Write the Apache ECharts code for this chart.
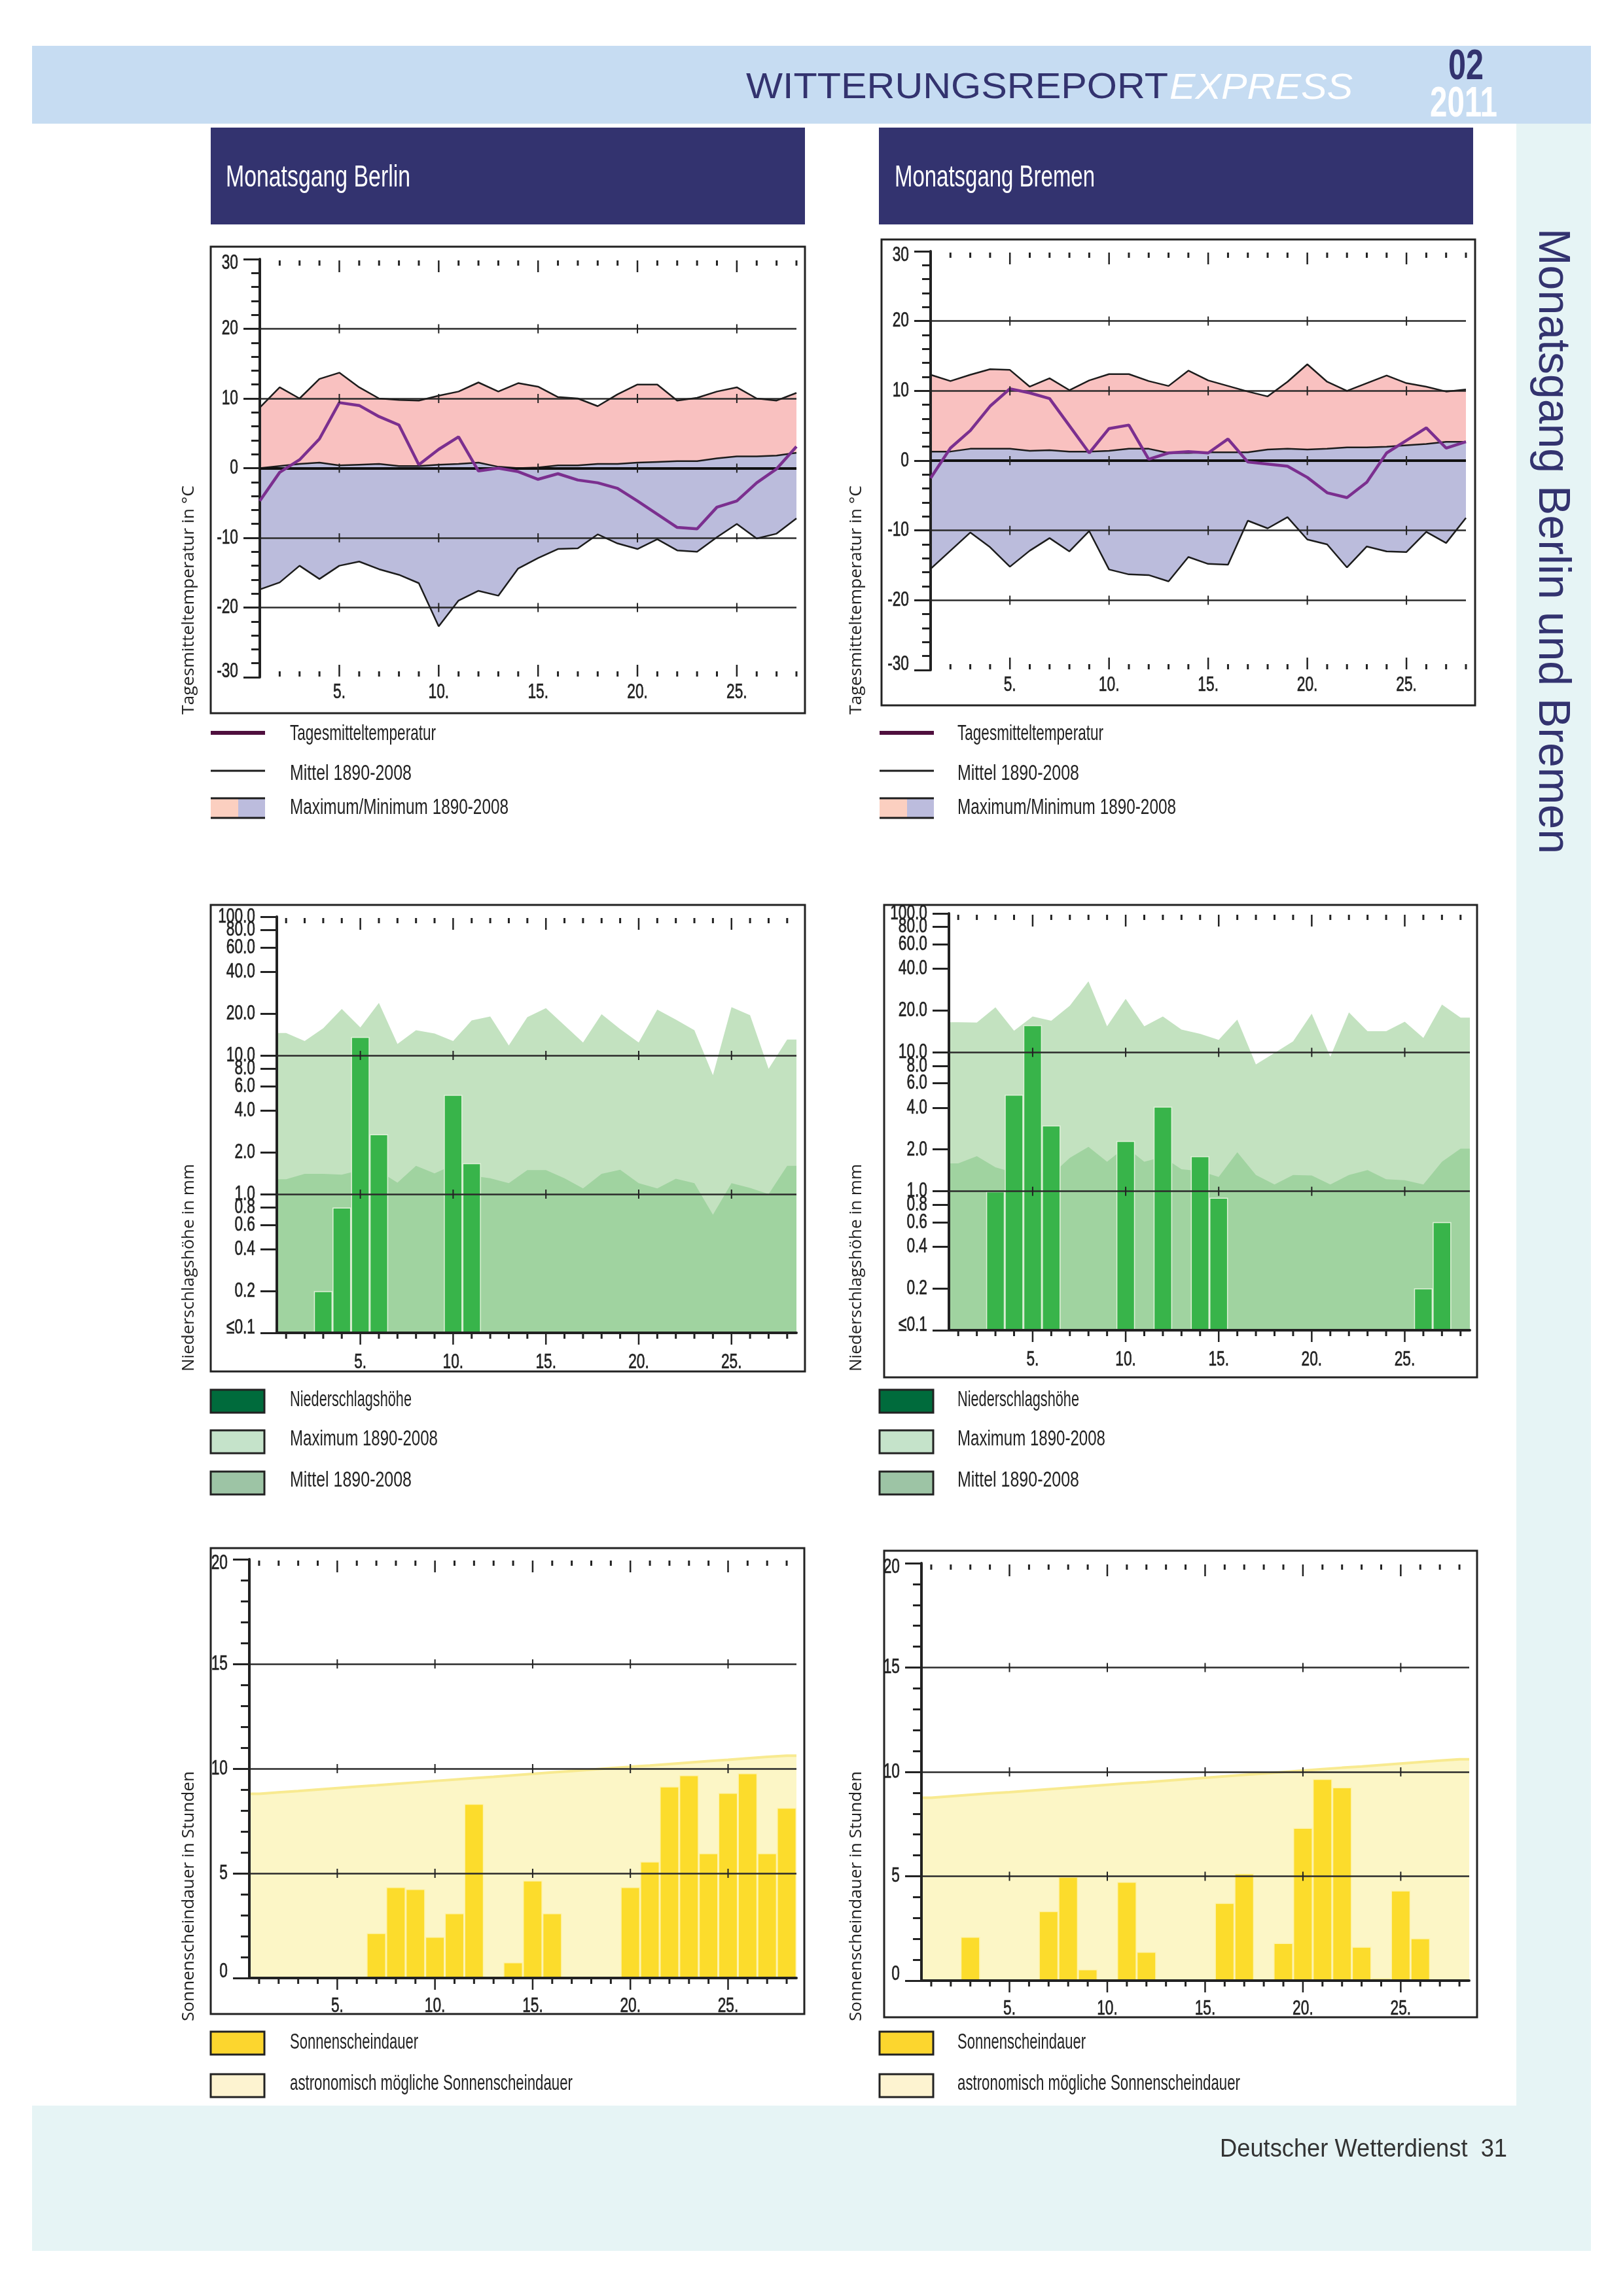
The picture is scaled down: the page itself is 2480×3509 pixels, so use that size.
<!DOCTYPE html>
<html>
<head>
<meta charset="utf-8">
<title>Monatsgang Berlin und Bremen</title>
<script src="https://cdn.jsdelivr.net/npm/echarts@6/dist/echarts.min.js"></script>
<style>
html, body { margin: 0; padding: 0; background: #fff; }
#page { width: 2480px; height: 3509px; }
</style>
</head>
<body>
<div id="page"></div>
<script>
var days = [1,2,3,4,5,6,7,8,9,10,11,12,13,14,15,16,17,18,19,20,21,22,23,24,25,26,27,28];

// Tagesmitteltemperatur
var berlinTemp = [-4.7,-0.6,1.2,4.2,9.4,9.0,7.4,6.2,0.5,2.7,4.5,-0.4,0,-0.5,-1.6,-0.8,-1.7,-2.1,-2.9,-4.7,-6.6,-8.5,-8.7,-5.6,-4.7,-2.1,-0.1,3.1];
var berlinTempMax = [8.7,11.6,10.0,12.8,13.7,11.6,10.0,9.8,9.7,10.4,11.0,12.3,11.0,12.2,11.7,10.2,10.0,8.9,10.6,12.0,12.0,9.7,10.1,11.0,11.6,10.0,9.7,10.8];
var berlinTempMean = [0,0.3,0.6,0.8,0.4,0.5,0.6,0.3,0.3,0.5,0.6,0.8,0.2,0,0.1,0.4,0.4,0.6,0.6,0.8,0.9,1.0,1.0,1.4,1.7,1.7,1.8,2.2];
var berlinTempMin = [-17.4,-16.4,-14.0,-15.9,-14.0,-13.4,-14.5,-15.3,-16.5,-22.7,-19.0,-17.6,-18.3,-14.4,-12.9,-11.6,-11.5,-9.5,-10.8,-11.6,-10.2,-11.8,-12.0,-9.9,-8.0,-10.1,-9.4,-7.2];

var bremenTemp = [-2.5,1.8,4.3,7.8,10.3,9.7,8.9,5.0,1.1,4.6,5.1,0.2,1.1,1.3,1.1,3.1,-0.2,-0.5,-0.8,-2.4,-4.6,-5.3,-3.1,1.1,2.9,4.7,1.8,2.7];
var bremenTempMax = [12.3,11.4,12.3,13.1,13.0,10.6,11.8,10.1,11.5,12.4,12.4,11.4,10.7,12.9,11.5,10.7,9.9,9.2,11.3,13.8,11.3,10.0,11.1,12.2,11.1,10.6,9.9,10.2];
var bremenTempMean = [1.3,1.3,1.7,1.7,1.7,1.4,1.5,1.3,1.3,1.4,1.7,1.7,1.1,1.1,1.2,1.2,1.2,1.6,1.7,1.6,1.7,1.9,1.9,2.0,2.2,2.4,2.7,2.7];
var bremenTempMin = [-15.5,-12.9,-10.3,-12.4,-15.2,-12.9,-11.1,-13.0,-10.1,-15.6,-16.3,-16.4,-17.3,-13.8,-14.8,-14.9,-8.6,-9.7,-8.1,-11.3,-12.0,-15.3,-12.3,-13.0,-13.1,-10.2,-11.8,-8.2];

// Niederschlagshoehe
var berlinRain = [null,null,0.2,0.8,13.6,2.7,null,null,null,5.2,1.67,null,null,null,null,null,null,null,null,null,null,null,null,null,null,null,null,null];
var berlinRainMax = [14.5,12.7,15.7,21.6,15.9,23.9,12.1,15.2,14.4,12.7,17.9,19.1,11.8,18.9,21.9,16.5,12.4,19.8,15.5,12.4,21.4,18.1,15.2,7.2,22.3,19.5,8.0,13.0];
var berlinRainMean = [1.28,1.40,1.40,1.38,1.49,1.47,1.21,1.60,1.41,1.62,1.36,1.30,1.20,1.49,1.49,1.30,1.10,1.40,1.50,1.20,1.10,1.29,1.20,0.71,1.20,1.11,1.0,1.60];

var bremenRain = [null,null,1.0,4.96,15.7,2.98,null,null,null,2.3,null,4.07,null,1.79,0.9,null,null,null,null,null,null,null,null,null,null,0.2,0.6,null];
var bremenRainMax = [16.5,16.4,21.1,14.3,18.1,16.9,21.7,32.5,15.4,24.3,15.4,18.1,14.6,13.6,12.3,17.2,8.2,9.9,12.0,19.0,9.3,19.4,14.2,14.2,16.6,12.7,22.1,17.8];
var bremenRainMean = [1.59,1.79,1.49,1.36,1.44,1.31,1.74,2.09,1.63,2.09,1.63,1.77,1.44,1.40,1.27,1.91,1.31,1.12,1.31,1.30,1.12,1.31,1.42,1.22,1.20,1.12,1.63,2.03];

// Sonnenscheindauer
var berlinSun = [null,null,null,null,null,null,2.15,4.34,4.25,1.97,3.09,8.32,null,0.75,4.66,3.09,null,null,null,4.34,5.56,9.15,9.69,5.96,8.84,9.78,5.96,8.13];
var berlinSunAstro = [8.80,8.87,8.93,9.00,9.07,9.14,9.20,9.27,9.34,9.41,9.48,9.55,9.61,9.68,9.75,9.82,9.88,9.95,10.02,10.09,10.15,10.22,10.29,10.36,10.42,10.49,10.56,10.62];

var bremenSun = [null,null,2.1,null,null,null,3.33,4.98,0.54,null,4.73,1.38,null,null,null,3.72,5.13,null,1.8,7.32,9.66,9.26,1.62,0.12,4.32,2.03,null,null];
var bremenSunAstro = [8.76,8.83,8.90,8.97,9.03,9.10,9.17,9.24,9.31,9.38,9.45,9.51,9.58,9.65,9.72,9.79,9.86,9.92,9.99,10.06,10.13,10.20,10.26,10.33,10.40,10.47,10.54,10.60];

// tick labels
var tempTicks = [-30,-20,-10,0,10,20,30];
var tempTickLabels = ['-30','-20','-10','0','10','20','30'];
var sunTicks = [0,5,10,15,20];
var sunTickLabels = ['0','5','10','15','20'];
var rainTicks = [0.1,0.2,0.4,0.6,0.8,1,2,4,6,8,10,20,40,60,80,99.99];
var rainTickLabels = ['≤0.1','0.2','0.4','0.6','0.8','1.0','2.0','4.0','6.0','8.0','10.0','20.0','40.0','60.0','80.0','100.0'];
var dayTicks = [5,10,15,20,25];
var dayTickLabels = ['5.','10.','15.','20.','25.'];

var SANS = '"Liberation Sans", sans-serif';
var INK = '#222';

var chart = echarts.init(document.getElementById('page'), null, { renderer: 'canvas', width: 2480, height: 3509 });

var grids = [], xAxes = [], yAxes = [], series = [], elements = [];

// the report's type is condensed and no such font is installed, so texts are squeezed to their width
var measure = document.createElement('canvas').getContext('2d');
function text(x, y, str, font, width, opt) {
    opt = opt || {};
    measure.font = font;
    var sx = width ? width / measure.measureText(str).width : 1;
    elements.push({
        type: 'text', x: x, y: y, rotation: opt.rotation || 0, scaleX: sx, silent: true,
        style: { text: str, font: font, fill: opt.fill || INK, align: opt.align || 'left', verticalAlign: 'middle' }
    });
}
function rect(x, y, w, h, fill, stroke, lw) {
    elements.push({
        type: 'rect', silent: true, shape: { x: x, y: y, width: w, height: h },
        style: { fill: fill || 'none', stroke: stroke || 'none', lineWidth: lw || 0 }
    });
}
function line(x1, y1, x2, y2, color, lw) {
    elements.push({
        type: 'line', silent: true, shape: { x1: x1, y1: y1, x2: x2, y2: y2 },
        style: { stroke: color, lineWidth: lw }
    });
}

function renderTick(params, api) {
    var p = api.coord([api.value(0), api.value(1)]);
    return {
        type: 'line',
        shape: { x1: p[0], y1: p[1] + api.value(2), x2: p[0], y2: p[1] + api.value(3) },
        style: { stroke: INK, lineWidth: api.value(4) }
    };
}

// day ticks: row along the top, row along the bottom and short ones across the grid lines
function addTicks(xIdx, yIdx, top, bottom, gridVals, bottomInside) {
    var rows = [];
    days.forEach(function (d, i) {
        var major = d % 5 === 0, len = major ? 18 : 8;
        if (i > 0 || !bottomInside) {
            rows.push([i, top, 2, 2 + len, major ? 2.5 : 3]);
            if (bottomInside) rows.push([i, bottom, -len - 1, -1, major ? 2.5 : 3]);
            else rows.push([i, bottom, 0, major ? 18 : 9, major ? 2.5 : 3]);
        }
        if (major) gridVals.forEach(function (v) { rows.push([i, v, -7, 7, 2]); });
    });
    series.push({
        type: 'custom', xAxisIndex: xIdx, yAxisIndex: yIdx, renderItem: renderTick, data: rows,
        clip: false, silent: true, z: 6, encode: { x: 0, y: 1 }
    });
}

function labelItem(x, y, str, align) {
    return {
        type: 'text', x: x, y: y, scaleX: 0.71,
        style: { text: str, font: '32px ' + SANS, fill: INK, stroke: INK, lineWidth: 0.7, align: align, verticalAlign: 'middle' }
    };
}

// tick labels go through the axis scales but keep the squeezed look of the original
function addTickLabels(xIdx, yIdx, yTicks, yLabels, xGap, bottom, topShift, bottomShift) {
    series.push({
        type: 'custom', xAxisIndex: xIdx, yAxisIndex: yIdx, clip: false, silent: true, z: 6,
        data: yTicks.map(function (v) { return [0, v]; }), encode: { x: 0, y: 1 },
        renderItem: function (params, api) {
            var i = params.dataIndex, shift = 0;
            if (i === 0) shift = bottomShift;
            if (i === yTicks.length - 1) shift = topShift;
            return labelItem(params.coordSys.x - 33, api.coord([0, api.value(1)])[1] + shift, yLabels[i], 'right');
        }
    });
    series.push({
        type: 'custom', xAxisIndex: xIdx, yAxisIndex: yIdx, clip: false, silent: true, z: 6,
        data: dayTicks.map(function (d) { return [d - 1, bottom]; }), encode: { x: 0, y: 1 },
        renderItem: function (params, api) {
            var p = api.coord([api.value(0), api.value(1)]);
            return labelItem(p[0], p[1] + xGap, dayTickLabels[params.dataIndex], 'center');
        }
    });
}

function addCartesian(box, boundaryGap, hideLine) {
    var g = grids.length;
    grids.push({ left: box.left, top: box.top, width: box.right - box.left, height: box.bottom - box.top });
    xAxes.push({
        type: 'category', gridIndex: g, data: days, boundaryGap: boundaryGap, z: 3,
        axisLine: { show: !hideLine, onZero: false, lineStyle: { color: INK, width: 4 } },
        axisTick: { show: false },
        splitLine: { show: false },
        axisLabel: { show: false }
    });
    return g;
}

function yAxisBase(g) {
    return {
        gridIndex: g, z: 3,
        axisLine: { show: true, onZero: false, lineStyle: { color: INK, width: 4 } },
        axisTick: { show: true, length: 25, lineStyle: { color: INK, width: 3 } },
        minorTick: { show: true, length: 13, lineStyle: { color: INK, width: 3 } },
        minorSplitLine: { show: false },
        splitLine: { show: true, showMinLine: false, showMaxLine: false, lineStyle: { color: '#2b2b2b', width: 2.5 } },
        axisLabel: { show: false }
    };
}

function addTempChart(box, temp, max, mean, min) {
    var g = addCartesian(box, false, true);
    var y = yAxisBase(g);
    y.type = 'value'; y.min = -30; y.max = 30; y.interval = 10;
    y.minorTick.splitNumber = 5;
    yAxes.push(y);
    var xIdx = xAxes.length - 1, yIdx = yAxes.length - 1;
    var common = { type: 'line', xAxisIndex: xIdx, yAxisIndex: yIdx, showSymbol: false, silent: true };
    var stack = 'band' + g;
    var lower = mean.map(function (v, i) { return v - min[i]; });
    var upper = max.map(function (v, i) { return v - mean[i]; });
    series.push(echarts.util.merge({ stack: stack, stackStrategy: 'all', data: min, lineStyle: { opacity: 0 }, z: 1 }, common));
    series.push(echarts.util.merge({ stack: stack, stackStrategy: 'all', data: lower, lineStyle: { opacity: 0 }, areaStyle: { color: '#bbbcdc', opacity: 1 }, z: 1 }, common));
    series.push(echarts.util.merge({ stack: stack, stackStrategy: 'all', data: upper, lineStyle: { opacity: 0 }, areaStyle: { color: '#f9c1c0', opacity: 1 }, z: 1 }, common));
    [max, mean, min].forEach(function (d) {
        series.push(echarts.util.merge({ data: d, lineStyle: { color: '#1c1c1c', width: 2.5 }, z: 4 }, common));
    });
    series.push(echarts.util.merge({
        data: temp, lineStyle: { color: '#7b2f8f', width: 4.5 }, z: 5,
        markLine: { silent: true, symbol: 'none', label: { show: false }, data: [{ yAxis: 0 }], lineStyle: { color: '#111', width: 4, type: 'solid' }, animation: false }
    }, common));
    addTicks(xIdx, yIdx, 30, -30, [-20, -10, 0, 10, 20], true);
    addTickLabels(xIdx, yIdx, tempTicks, tempTickLabels, 23, -30, 6, -9);
}

// areas run to the plot edges, half a day beyond the first and last bar
function edgeData(values) {
    var out = [[0.5, values[0]]];
    values.forEach(function (v, i) { out.push([days[i], v]); });
    out.push([28.5, values[values.length - 1]]);
    return out;
}

function addEdgeAxis(g) {
    xAxes.push({ type: 'value', gridIndex: g, min: 0.5, max: 28.5, show: false });
    return xAxes.length - 1;
}

function addRainChart(box, rain, max, mean) {
    var g = addCartesian(box, true, false);
    var xIdx = xAxes.length - 1;
    var edge = addEdgeAxis(g);
    var y = yAxisBase(g);
    y.type = 'log'; y.logBase = 10; y.min = 0.1; y.max = 100; y.startValue = 0.1;
    y.minorTick.show = false;
    y.axisTick.customValues = rainTicks;
    y.splitLine.show = false;
    yAxes.push(y);
    var yIdx = yAxes.length - 1;
    series.push({ type: 'line', xAxisIndex: edge, yAxisIndex: yIdx, showSymbol: false, silent: true, data: edgeData(max), lineStyle: { width: 0 }, areaStyle: { color: '#c3e2c0', opacity: 1, origin: 'start' }, z: 1 });
    series.push({ type: 'line', xAxisIndex: edge, yAxisIndex: yIdx, showSymbol: false, silent: true, data: edgeData(mean), lineStyle: { width: 0 }, areaStyle: { color: '#a0d3a0', opacity: 1, origin: 'start' }, z: 1 });
    series.push({
        type: 'bar', xAxisIndex: xIdx, yAxisIndex: yIdx, data: rain, barWidth: '100%', silent: true,
        itemStyle: { color: '#38b44a', borderColor: '#dff0d8', borderWidth: 1.5 }, z: 2,
        markLine: { silent: true, symbol: 'none', label: { show: false }, data: [{ yAxis: 1 }, { yAxis: 10 }], lineStyle: { color: '#2b2b2b', width: 2.5, type: 'solid' }, animation: false }
    });
    addTicks(xIdx, yIdx, 100, 0.1, [1, 10], false);
    addTickLabels(xIdx, yIdx, rainTicks, rainTickLabels, 45, 0.1, 0, -8);
}

function addSunChart(box, sun, astro) {
    var g = addCartesian(box, true, false);
    var xIdx = xAxes.length - 1;
    var edge = addEdgeAxis(g);
    var y = yAxisBase(g);
    y.type = 'value'; y.min = 0; y.max = 20; y.interval = 5;
    y.minorTick.splitNumber = 5;
    yAxes.push(y);
    var yIdx = yAxes.length - 1;
    series.push({ type: 'line', xAxisIndex: edge, yAxisIndex: yIdx, showSymbol: false, silent: true, data: edgeData(astro), lineStyle: { color: '#f8ea90', width: 4 }, areaStyle: { color: '#fcf6c6', opacity: 1, origin: 'start' }, z: 1 });
    series.push({ type: 'bar', xAxisIndex: xIdx, yAxisIndex: yIdx, data: sun, barWidth: '100%', silent: true, itemStyle: { color: '#fcdc2c', borderColor: '#fdf3b0', borderWidth: 1.5 }, z: 2 });
    addTicks(xIdx, yIdx, 20, 0, [5, 10, 15], false);
    addTickLabels(xIdx, yIdx, sunTicks, sunTickLabels, 43, 0, 6, -10);
}

// page furniture
rect(49, 70, 2382, 119, '#c6dcf2');
rect(2317, 189, 114, 3029, '#e6f4f5');
rect(49, 3218, 2382, 222, '#e6f4f5');
rect(322, 195, 908, 148, '#33336f');
rect(1343, 195, 908, 148, '#33336f');
text(1140, 135, 'WITTERUNGSREPORT', '56px ' + SANS, 645, { fill: '#33336f' });
text(1787, 135, 'EXPRESS', 'italic 56px ' + SANS, 280, { fill: '#fff' });
text(2213, 103, '02', 'bold 64px ' + SANS, 54, { fill: '#33336f' });
text(2185, 160, '2011', 'bold 64px ' + SANS, 103, { fill: '#fff' });
text(345, 272, 'Monatsgang Berlin', '46px ' + SANS, 282, { fill: '#fff' });
text(1367, 272, 'Monatsgang Bremen', '46px ' + SANS, 306, { fill: '#fff' });
text(2371, 349, 'Monatsgang Berlin und Bremen', '68px ' + SANS, 956, { fill: '#33336f', rotation: -Math.PI / 2 });
text(1864, 3286, 'Deutscher Wetterdienst  31', '38px ' + SANS, 439, { fill: '#333' });

// chart frames
rect(322, 377, 908, 713, null, INK, 3);
rect(1347, 366, 907, 712, null, INK, 3);
rect(322, 1383, 908, 713, null, INK, 3);
rect(1351, 1383, 906, 722, null, INK, 3);
rect(322, 2366, 907, 712, null, INK, 3);
rect(1351, 2370, 906, 713, null, INK, 3);

addTempChart({ left: 397, right: 1217, top: 396, bottom: 1035 }, berlinTemp, berlinTempMax, berlinTempMean, berlinTempMin);
addTempChart({ left: 1422, right: 2240, top: 384, bottom: 1024 }, bremenTemp, bremenTempMax, bremenTempMean, bremenTempMin);
addRainChart({ left: 423, right: 1217, top: 1401, bottom: 2037 }, berlinRain, berlinRainMax, berlinRainMean);
addRainChart({ left: 1450, right: 2246, top: 1396, bottom: 2033 }, bremenRain, bremenRainMax, bremenRainMean);
addSunChart({ left: 381, right: 1217, top: 2383, bottom: 3023 }, berlinSun, berlinSunAstro);
addSunChart({ left: 1408, right: 2245, top: 2389, bottom: 3027 }, bremenSun, bremenSunAstro);

// legends and axis titles, one column for each city
var TITLE_FONT = '25px "Open Sans"';
var LEGEND_FONT = '34px ' + SANS;
[{ title: 289, sw: 322, tx: 443 }, { title: 1309, sw: 1344, tx: 1463 }].forEach(function (c) {
    text(c.title, 1092, 'Tagesmitteltemperatur in °C', TITLE_FONT, 350, { rotation: Math.PI / 2 });
    text(c.title, 2096, 'Niederschlagshöhe in mm', TITLE_FONT, 317, { rotation: Math.PI / 2 });
    text(c.title, 3089, 'Sonnenscheindauer in Stunden', TITLE_FONT, 382, { rotation: Math.PI / 2 });

    line(c.sw, 1120, c.sw + 83, 1120, '#4f0f3e', 6);
    text(c.tx, 1122, 'Tagesmitteltemperatur', LEGEND_FONT, 223);
    line(c.sw, 1178, c.sw + 83, 1178, '#1c1c1c', 3);
    text(c.tx, 1183, 'Mittel 1890-2008', LEGEND_FONT, 186);
    rect(c.sw, 1220, 42, 30, '#fbcfc0');
    rect(c.sw + 42, 1220, 41, 30, '#bcbcdd');
    line(c.sw, 1220, c.sw + 83, 1220, '#1c1c1c', 3);
    line(c.sw, 1250, c.sw + 83, 1250, '#1c1c1c', 3);
    text(c.tx, 1235, 'Maximum/Minimum 1890-2008', LEGEND_FONT, 334);

    rect(c.sw, 2124, 82, 35, '#006b3c', INK, 3);
    text(c.tx, 2140, 'Niederschlagshöhe', LEGEND_FONT, 186);
    rect(c.sw, 2186, 82, 35, '#c5e3ca', INK, 3);
    text(c.tx, 2200, 'Maximum 1890-2008', LEGEND_FONT, 226);
    rect(c.sw, 2249, 82, 35, '#9dc4a5', INK, 3);
    text(c.tx, 2263, 'Mittel 1890-2008', LEGEND_FONT, 186);

    rect(c.sw, 3105, 82, 35, '#fcd62e', INK, 3);
    text(c.tx, 3122, 'Sonnenscheindauer', LEGEND_FONT, 196);
    rect(c.sw, 3170, 82, 35, '#fdf3d0', INK, 3);
    text(c.tx, 3185, 'astronomisch mögliche Sonnenscheindauer', LEGEND_FONT, 432);
});

chart.setOption({
    animation: false,
    backgroundColor: '#fff',
    grid: grids,
    xAxis: xAxes,
    yAxis: yAxes,
    series: series,
    graphic: { elements: elements }
});
</script>
</body>
</html>
